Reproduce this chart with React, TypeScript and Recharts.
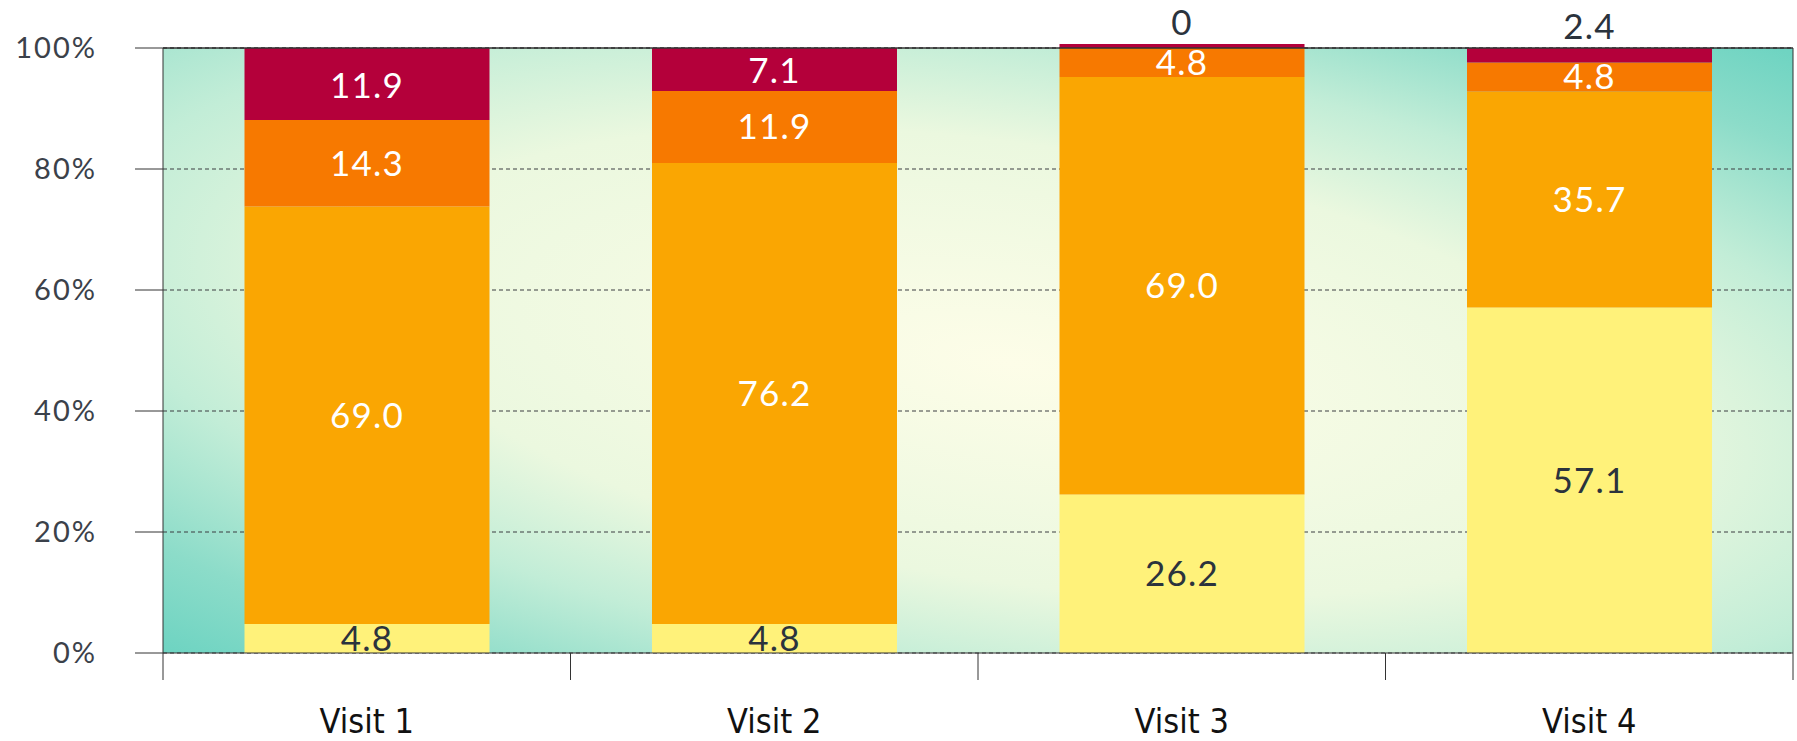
import {
  BarChart,
  Bar,
  XAxis,
  YAxis,
  CartesianGrid,
  ReferenceLine,
  LabelList,
} from "recharts";

const visits = ["Visit 1", "Visit 2", "Visit 3", "Visit 4"];
const level1 = [4.8, 4.8, 26.2, 57.1];
const level2 = [69.0, 76.2, 69.0, 35.7];
const level3 = [14.3, 11.9, 4.8, 4.8];
const level4 = [11.9, 7.1, 0, 2.4];
const yTicks = [0, 20, 40, 60, 80, 100];

const data = visits.map((name, i) => ({
  name,
  level1: level1[i],
  level2: level2[i],
  level3: level3[i],
  level4: level4[i],
}));

const DARK = "#2b333d";
const AXIS = "#333";
const LABEL_FONT = "Lato, 'Open Sans', sans-serif";

const fmt = (v: any) => (Number(v) === 0 ? "0" : Number(v).toFixed(1));

const labelStyle = {
  fontSize: 35,
  letterSpacing: 1.2,
  fontFamily: LABEL_FONT,
};

// top segment: label goes above the bar when the slice is too thin
const renderTopLabel = (props: any) => {
  const { x, y, width, height, value } = props;
  const outside = Math.abs(height) < 20;
  return (
    <text
      x={x + width / 2}
      y={outside ? y - 23 : y + height / 2}
      textAnchor="middle"
      dominantBaseline="central"
      fill={outside ? DARK : "#fff"}
      {...labelStyle}
    >
      {fmt(value)}
    </text>
  );
};

// category label plus a tick mark at each band boundary (Excel style)
const renderVisitTick = (props: any) => {
  const { x, y, payload, index, visibleTicksCount, width } = props;
  const half =
    payload.offset > 0 ? payload.offset : width / visibleTicksCount / 2;
  const last = index === visibleTicksCount - 1;
  return (
    <g>
      <line x1={x - half} x2={x - half} y1={y} y2={y + 27} stroke={AXIS} />
      {last && (
        <line x1={x + half} x2={x + half} y1={y} y2={y + 27} stroke={AXIS} />
      )}
      <text
        x={x}
        y={y + 80}
        textAnchor="middle"
        fill="#111"
        fontSize={34}
        fontFamily="'DejaVu Sans Condensed', 'DejaVu Sans', sans-serif"
      >
        {payload.value}
      </text>
    </g>
  );
};

const App = () => {
  return (
    <div style={{ position: "absolute", left: 0, top: 0 }}>
      <BarChart
        width={1797}
        height={741}
        data={data}
        barCategoryGap="20%"
        margin={{ top: 48, right: 0, left: 0, bottom: 0 }}
      >
        <defs>
          <radialGradient
            id="plotBg"
            cx={0}
            cy={0}
            r={1}
            gradientTransform="translate(0.52 0.52) rotate(45) scale(1 0.7)"
          >
            <stop offset="0" stopColor="#fdfde8" />
            <stop offset="0.45" stopColor="#ebf8df" />
            <stop offset="0.65" stopColor="#c2edd7" />
            <stop offset="0.85" stopColor="#8cdcc9" />
            <stop offset="1" stopColor="#6fd4c2" />
          </radialGradient>
        </defs>
        <CartesianGrid
          vertical={false}
          stroke="#3a3d40"
          strokeDasharray="4 3"
          fill="url(#plotBg)"
          fillOpacity={1}
        />
        <XAxis
          dataKey="name"
          stroke={AXIS}
          tickLine={false}
          tickSize={0}
          tickMargin={0}
          height={88}
          tick={renderVisitTick}
        />
        <YAxis
          domain={[0, 100]}
          ticks={yTicks}
          tickFormatter={(v) => `${v}%`}
          width={163}
          tickSize={28}
          tickMargin={38}
          stroke={AXIS}
          tick={{
            fill: "#3b414a",
            fontSize: 29,
            letterSpacing: 2,
            fontFamily: LABEL_FONT,
          }}
        />
        <YAxis
          yAxisId="right"
          orientation="right"
          domain={[0, 100]}
          width={4}
          tick={false}
          tickLine={false}
          stroke={AXIS}
        />
        <Bar dataKey="level1" stackId="a" fill="#fff27a" isAnimationActive={false}>
          <LabelList
            dataKey="level1"
            position="center"
            formatter={fmt}
            fill={DARK}
            {...labelStyle}
          />
        </Bar>
        <Bar dataKey="level2" stackId="a" fill="#faa602" isAnimationActive={false}>
          <LabelList
            dataKey="level2"
            position="center"
            formatter={fmt}
            fill="#fff"
            {...labelStyle}
          />
        </Bar>
        <Bar dataKey="level3" stackId="a" fill="#f77900" isAnimationActive={false}>
          <LabelList
            dataKey="level3"
            position="center"
            formatter={fmt}
            fill="#fff"
            {...labelStyle}
          />
        </Bar>
        <Bar
          dataKey="level4"
          stackId="a"
          fill="#b4003a"
          minPointSize={4}
          isAnimationActive={false}
        >
          <LabelList dataKey="level4" content={renderTopLabel} />
        </Bar>
        <ReferenceLine y={100} stroke={AXIS} strokeWidth={1.5} />
      </BarChart>
    </div>
  );
};

export default App;
